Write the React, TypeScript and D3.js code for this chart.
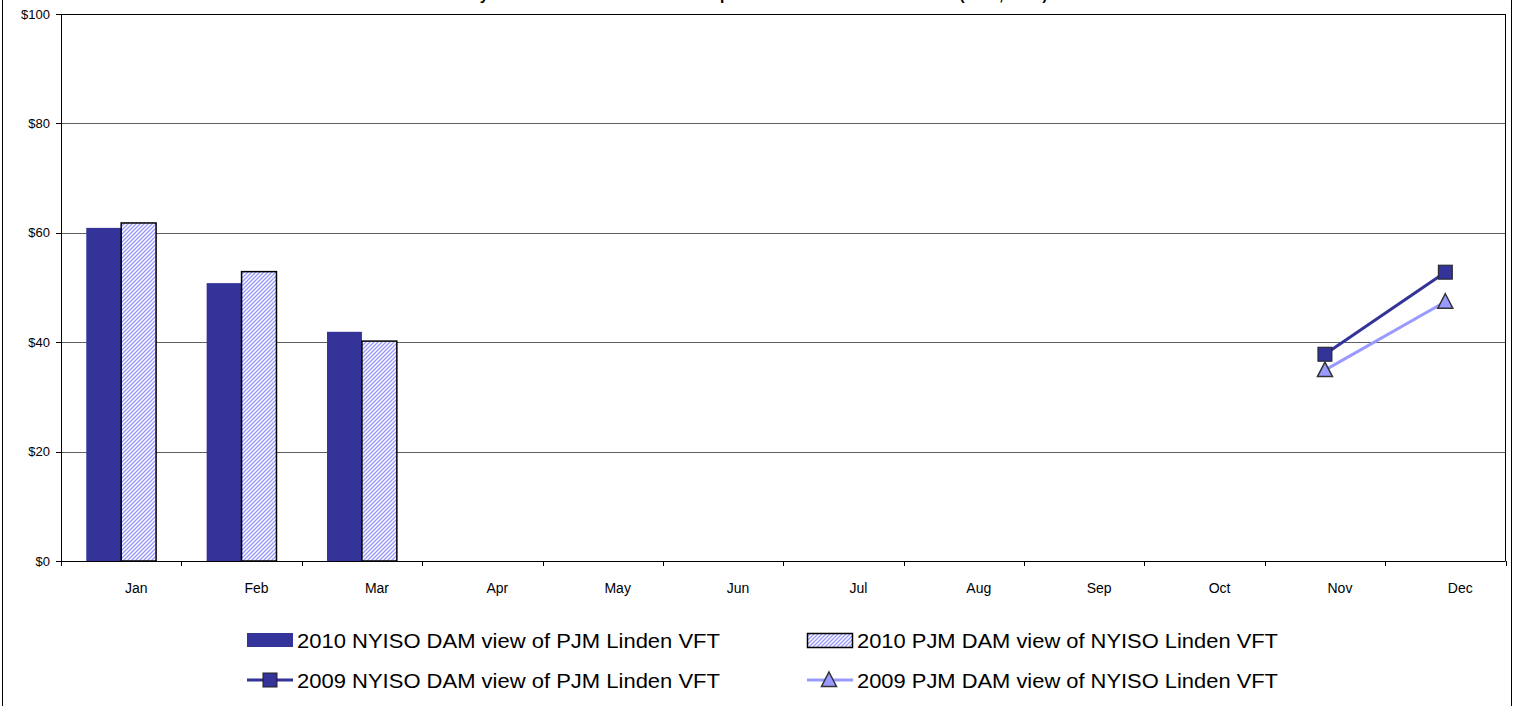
import React from "react";
import * as d3 from "d3";

const months = ["Jan", "Feb", "Mar", "Apr", "May", "Jun", "Jul", "Aug", "Sep", "Oct", "Nov", "Dec"];
const nyiso2010: (number | null)[] = [60.9, 50.8, 41.9, null, null, null, null, null, null, null, null, null];
const pjm2010: (number | null)[] = [61.8, 52.9, 40.2, null, null, null, null, null, null, null, null, null];
const nyiso2009: (number | null)[] = [null, null, null, null, null, null, null, null, null, null, 37.8, 52.8];
const pjm2009: (number | null)[] = [null, null, null, null, null, null, null, null, null, null, 34.9, 47.4];
const yTicks = [0, 20, 40, 60, 80, 100];
const legendLabels = [
  "2010 NYISO DAM view of PJM Linden VFT",
  "2010 PJM DAM view of NYISO Linden VFT",
  "2009 NYISO DAM view of PJM Linden VFT",
  "2009 PJM DAM view of NYISO Linden VFT",
];
const title = "Monthly NYISO and PJM Linden VFT Import Benefits in DAM Schedules (2009, 2010)";

const W = 1514;
const H = 706;
const plot = { left: 61, right: 1505.5, top: 14, bottom: 561 };
const DARK = "#333399";
const LIGHT = "#9999FF";
const FONT = "'Liberation Sans', Arial, sans-serif";

export default function App() {
  const x = d3.scaleBand<string>().domain(months).range([plot.left, plot.right]).paddingInner(0).paddingOuter(0);
  const y = d3.scaleLinear().domain([0, 100]).range([plot.bottom, plot.top]);
  const bw = x.bandwidth();
  const barW = bw * 0.29;
  const cx = (m: string) => (x(m) as number) + bw / 2;

  const line = d3
    .line<[string, number | null]>()
    .defined((d) => d[1] != null)
    .x((d) => cx(d[0]))
    .y((d) => y(d[1] as number));

  const nyLine = line(months.map((m, i) => [m, nyiso2009[i]]));
  const pjLine = line(months.map((m, i) => [m, pjm2009[i]]));

  const square = (px: number, py: number, key: string) => (
    <rect key={key} x={px - 7} y={py - 7} width={14} height={14} fill={DARK} stroke="#222" strokeWidth={1} />
  );
  const tri = (px: number, py: number, key: string) => (
    <path
      key={key}
      d={`M${px},${py - 8}L${px + 7.5},${py + 6.5}L${px - 7.5},${py + 6.5}Z`}
      fill={LIGHT}
      stroke="#333"
      strokeWidth={1.5}
      strokeLinejoin="miter"
    />
  );

  const boundaries = d3.range(0, months.length + 1).map((i) => plot.left + i * bw);

  return (
    <svg
      width={W}
      height={H}
      style={{ position: "absolute", left: 0, top: 0, background: "#fff" }}
      fontFamily={FONT}
    >
      <defs>
        <pattern id="hatch" patternUnits="userSpaceOnUse" width={4} height={4}>
          <rect width={4} height={4} fill="#ffffff" />
          <path d="M-1,1 l2,-2 M0,4 l4,-4 M3,5 l2,-2" stroke={LIGHT} strokeWidth={1.4} />
        </pattern>
      </defs>
      <rect x={0} y={0} width={W} height={H} fill="#fff" />
      {/* outer border */}
      <rect x={2.5} y={-10} width={1509} height={730} fill="none" stroke="#000" strokeWidth={1} />

      {/* title (mostly cut off at top) */}
      <text x={429} y={0} fontSize={15.5} fontWeight="bold" fill="#000">
        {title}
      </text>

      {/* gridlines */}
      {yTicks.slice(1, -1).map((t) => (
        <line key={t} x1={plot.left} x2={plot.right} y1={Math.round(y(t)) + 0.5} y2={Math.round(y(t)) + 0.5} stroke="#606060" strokeWidth={1} />
      ))}
      {/* plot frame top/right */}
      <line x1={plot.left} x2={plot.right} y1={y(100) + 0.5} y2={y(100) + 0.5} stroke="#000" />
      <line x1={plot.right} x2={plot.right} y1={y(100)} y2={y(0)} stroke="#000" />

      {/* bars */}
      {months.map((m, i) =>
        nyiso2010[i] != null ? (
          <rect key={"n" + m} x={cx(m) - barW} y={y(nyiso2010[i] as number)} width={barW} height={y(0) - y(nyiso2010[i] as number)} fill={DARK} />
        ) : null
      )}
      {months.map((m, i) =>
        pjm2010[i] != null ? (
          <rect key={"p" + m} x={cx(m)} y={y(pjm2010[i] as number)} width={barW} height={y(0) - y(pjm2010[i] as number)} fill="url(#hatch)" stroke="#000" strokeWidth={1.5} />
        ) : null
      )}

      {/* axes */}
      <line x1={plot.left + 0.5} x2={plot.left + 0.5} y1={plot.top} y2={plot.bottom + 5} stroke="#000" />
      <line x1={plot.left - 5} x2={plot.right} y1={plot.bottom + 0.5} y2={plot.bottom + 0.5} stroke="#000" />
      {yTicks.map((t) => (
        <g key={"yt" + t}>
          <line x1={plot.left - 5} x2={plot.left} y1={Math.round(y(t)) + 0.5} y2={Math.round(y(t)) + 0.5} stroke="#000" />
          <text x={50} y={y(t) + 4.5} fontSize={13} textAnchor="end" fill="#000">
            {"$" + t}
          </text>
        </g>
      ))}
      {boundaries.map((b, i) => (
        <line key={"xt" + i} x1={Math.round(b) + 0.5} x2={Math.round(b) + 0.5} y1={plot.bottom} y2={plot.bottom + 5} stroke="#000" />
      ))}
      {months.map((m) => (
        <text key={"xl" + m} x={cx(m) + 15} y={593} fontSize={14} textAnchor="middle" fill="#000">
          {m}
        </text>
      ))}

      {/* lines */}
      <path d={nyLine || ""} fill="none" stroke={DARK} strokeWidth={3} />
      <path d={pjLine || ""} fill="none" stroke={LIGHT} strokeWidth={3} />
      {months.map((m, i) => (nyiso2009[i] != null ? square(cx(m), y(nyiso2009[i] as number), "sq" + m) : null))}
      {months.map((m, i) => (pjm2009[i] != null ? tri(cx(m), y(pjm2009[i] as number), "tr" + m) : null))}

      {/* legend */}
      <rect x={247} y={633} width={46} height={14} fill={DARK} />
      <text x={297} y={648} fontSize={20} textLength={423} lengthAdjust="spacingAndGlyphs" fill="#000">
        {legendLabels[0]}
      </text>
      <rect x={807.5} y={633.5} width={45} height={14} fill="url(#hatch)" stroke="#000" strokeWidth={1.5} />
      <text x={857} y={648} fontSize={20} textLength={421} lengthAdjust="spacingAndGlyphs" fill="#000">
        {legendLabels[1]}
      </text>
      <line x1={247} x2={293} y1={680} y2={680} stroke={DARK} strokeWidth={3} />
      {square(270, 680, "lsq")}
      <text x={297} y={688} fontSize={20} textLength={423} lengthAdjust="spacingAndGlyphs" fill="#000">
        {legendLabels[2]}
      </text>
      <line x1={807} x2={853} y1={680} y2={680} stroke={LIGHT} strokeWidth={3} />
      {tri(829, 680, "ltr")}
      <text x={857} y={688} fontSize={20} textLength={421} lengthAdjust="spacingAndGlyphs" fill="#000">
        {legendLabels[3]}
      </text>
    </svg>
  );
}
